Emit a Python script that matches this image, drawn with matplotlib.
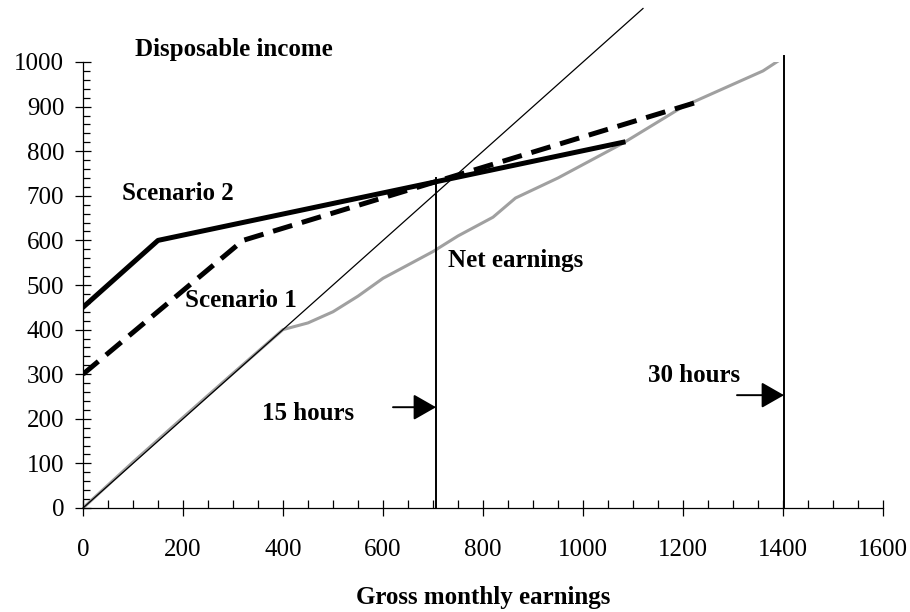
import matplotlib
matplotlib.use("Agg")
import matplotlib.pyplot as plt
import numpy as np

plt.rcParams['font.family'] = ['Liberation Serif', 'DejaVu Serif']

# reference line y = x
diag_x = [0, 1120]
diag_y = [0, 1120]

scen2_x = [0, 150, 1080]
scen2_y = [450, 600, 820]

scen1_x = [0, 320, 1228]
scen1_y = [300, 600, 910]

net_x = [0, 100, 200, 300, 400, 450, 500, 550, 600, 700, 750, 820, 865, 950, 1080, 1200, 1360, 1390]
net_y = [0, 103, 203, 302, 400, 415, 440, 475, 515, 575, 610, 652, 695, 740, 818, 900, 980, 1002]

hours_x = [706, 1402]
hours_top = [740, 1013]
hours_labels = ["15 hours", "30 hours"]
arrow_y = [226, 253]
arrow_start = [620, 1308]

fig = plt.figure(figsize=(9.1, 6.12), dpi=100)
ax = fig.add_axes([83/910, 104/612, 800/910, 446/612])

ax.plot(net_x, net_y, color="#a0a0a0", lw=2.2, solid_joinstyle="round")
ax.plot(diag_x, diag_y, color="black", lw=0.9, clip_on=False)
ax.plot(scen2_x, scen2_y, color="black", lw=3.6)
ax.plot(scen1_x, scen1_y, color="black", lw=3.6, dashes=(4, 2))

for x, top in zip(hours_x, hours_top):
    ax.plot([x, x], [0, top], color="black", lw=1.4, clip_on=False)

for x0, x1, y in zip(arrow_start, hours_x, arrow_y):
    ax.annotate("", xy=(x1, y), xytext=(x0, y),
                arrowprops=dict(arrowstyle="-|>,head_length=1.4,head_width=0.8",
                                color="black", lw=1.4, shrinkA=0, shrinkB=0))

bold = dict(fontsize=18, fontweight="bold", va="center")
ax.text(104, 1027, "Disposable income", ha="left", **bold)
ax.text(78, 706, "Scenario 2", ha="left", **bold)
ax.text(204, 466, "Scenario 1", ha="left", **bold)
ax.text(730, 556, "Net earnings", ha="left", **bold)
ax.text(358, 213, hours_labels[0], ha="left", **bold)
ax.text(1130, 296, hours_labels[1], ha="left", **bold)

ax.set_xlim(0, 1600)
ax.set_ylim(0, 1000)
ax.set_xticks(np.arange(0, 1601, 200))
ax.set_yticks(np.arange(0, 1001, 100))
ax.set_xticks(np.arange(0, 1601, 50), minor=True)
ax.set_yticks(np.arange(0, 1001, 20), minor=True)
ax.tick_params(axis="both", which="major", direction="inout", width=0.9, labelsize=18)
ax.tick_params(axis="x", which="major", length=12, pad=16)
ax.tick_params(axis="y", which="major", length=11, pad=8)
ax.tick_params(axis="x", which="minor", direction="in", length=6, width=0.9)
ax.tick_params(axis="y", which="minor", direction="in", length=5, width=0.9)

for s in ["top", "right"]:
    ax.spines[s].set_visible(False)
for s in ["left", "bottom"]:
    ax.spines[s].set_linewidth(0.9)

ax.set_xlabel("Gross monthly earnings", fontsize=18, fontweight="bold", labelpad=18)

fig.savefig("out.png", dpi=100)
